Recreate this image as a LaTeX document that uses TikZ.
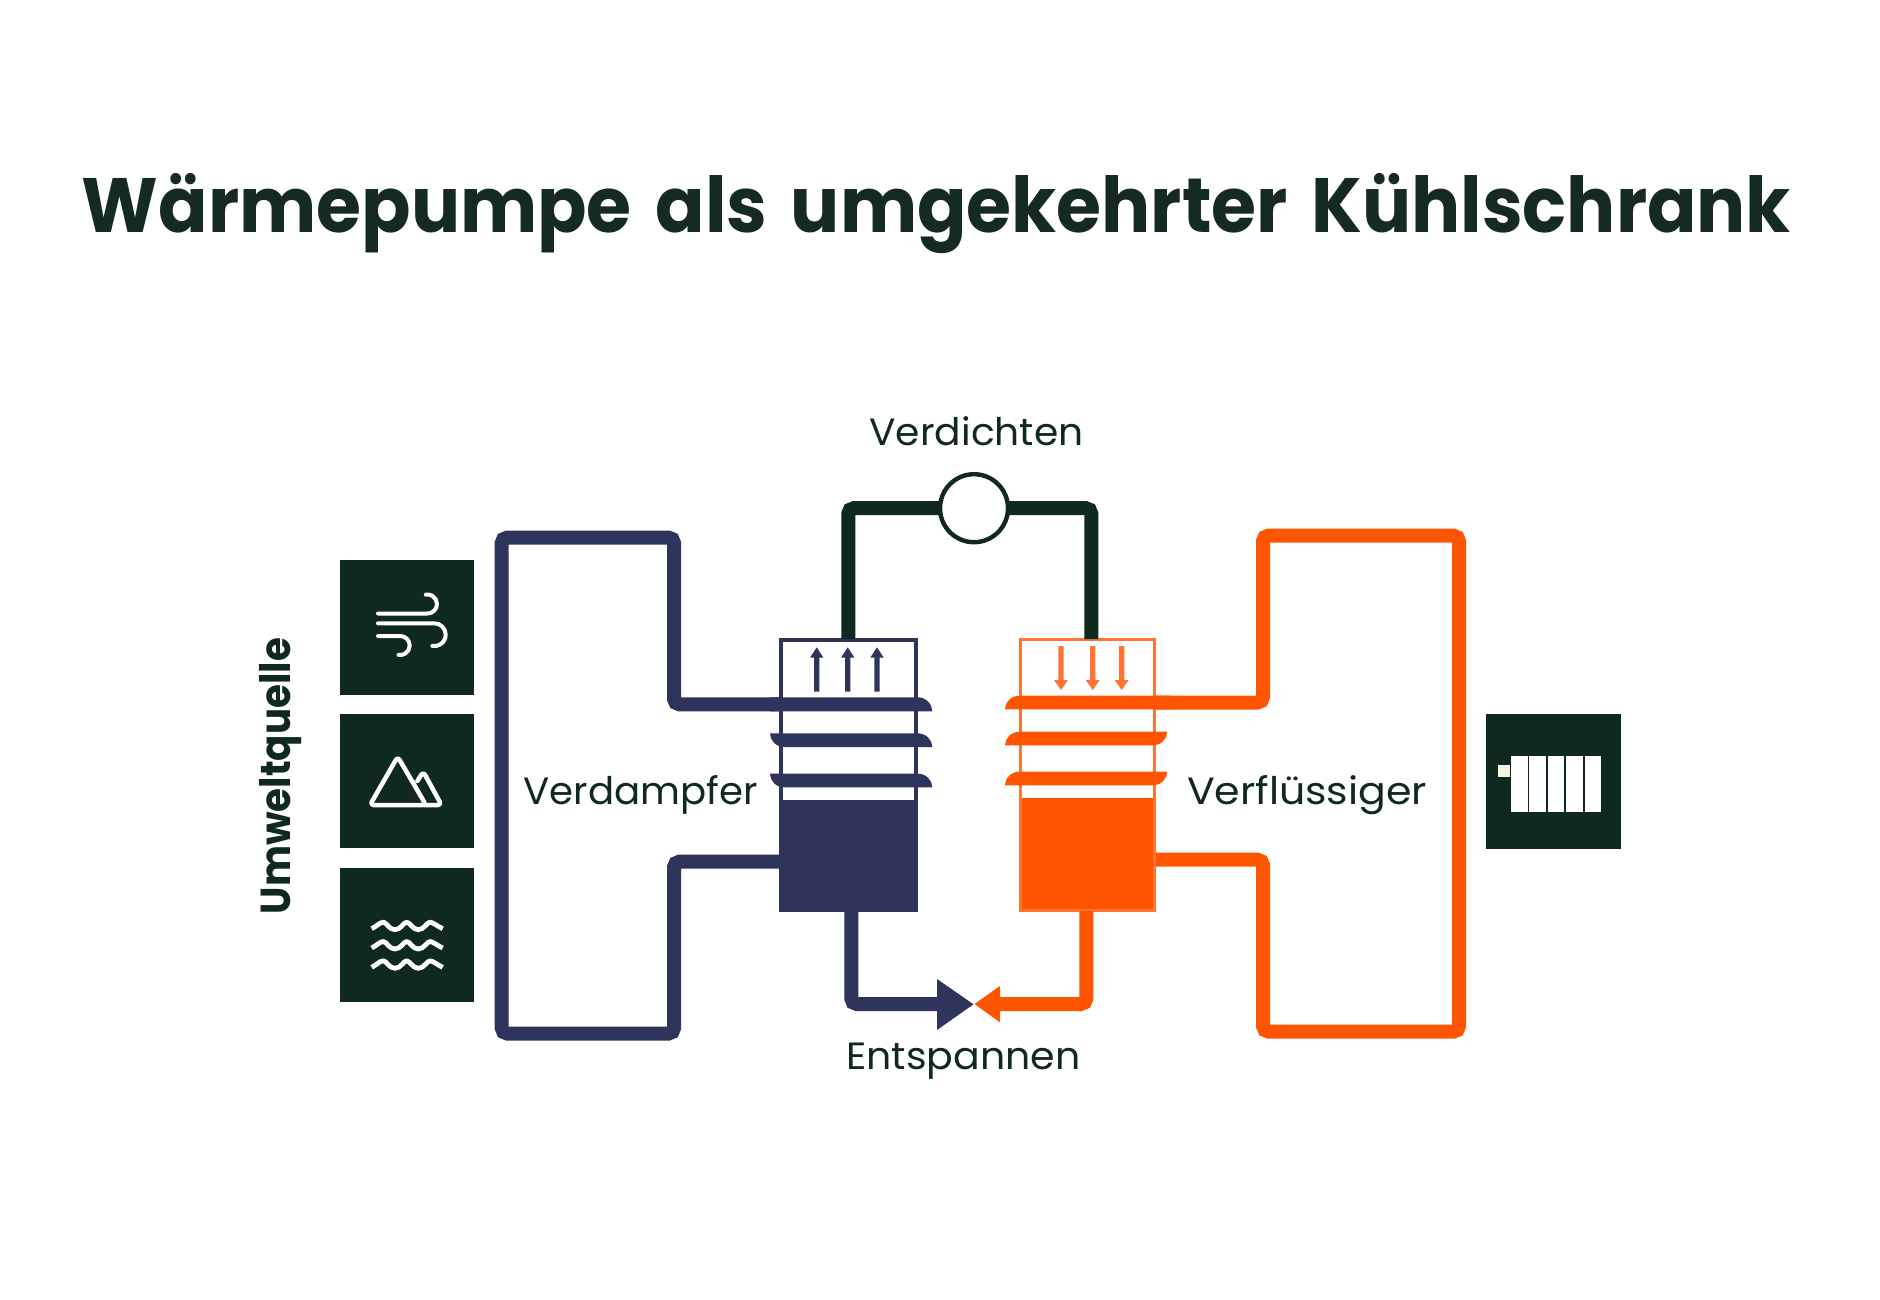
\documentclass[tikz,border=0pt]{standalone}
\usepackage{fontspec}
\usepackage{graphicx}
\newfontfamily\titlefont{Poppins}
\newfontfamily\labelfont{Poppins}
\definecolor{dark}{HTML}{10291E}
\definecolor{titlecol}{HTML}{152A22}
\definecolor{navy}{HTML}{2E345C}
\definecolor{hot}{HTML}{FF5500}
\definecolor{hotlight}{HTML}{FF7333}
\definecolor{pale}{HTML}{F4F7E4}
\tikzset{
  pipe/.style={line width=14pt,rounded corners=5.5pt,line cap=butt},
  iconline/.style={draw=white,line width=4pt,line cap=round,line join=round},
  tile/.style={fill=dark,draw=none,minimum width=134.5pt,minimum height=134.5pt,inner sep=0pt,outer sep=0pt},
  lab/.style={text=dark,inner sep=0pt,anchor=base,font=\labelfont\fontsize{38}{44}\selectfont},
  panel/.style={fill=white,draw=none,minimum width=16.4pt,minimum height=55.4pt,inner sep=0pt,outer sep=0pt},
  vessel/.style={draw,inner sep=0pt,outer sep=0pt,fill=white},
}
\newcommand{\fitw}[2]{\resizebox{#1pt}{\height}{#2}}
\newcommand{\navybar}[3]{\fill[navy] (#1,#2) -- (918,#2) .. controls (926,#2) and (932.3,#3-7) .. (932.3,#3) -- (784,#3) .. controls (776,#3) and (770,#2+7) .. (770,#2) -- cycle;}
\newcommand{\hotbar}[3]{\fill[hot] (1020,#2) -- (1167.3,#2) .. controls (1167.3,#2+7) and (1161,#3) .. (1153,#3) -- (1005,#3) .. controls (1005,#3-7) and (1011,#2) .. (1020,#2) -- cycle;}
\begin{document}
\begin{tikzpicture}[x=1pt,y=-1pt]
\useasboundingbox (0,0) rectangle (1880,1300);
\fill[white] (0,0) rectangle (1880,1300);

\node[inner sep=0pt,anchor=base,text=titlecol] (title) at (936.5,233) {\fitw{1709}{\titlefont\bfseries\fontsize{77}{96}\selectfont\spaceskip=25pt Wärmepumpe als umgekehrter Kühlschrank}};

% tiles
\node[tile] (wind) at (407.2,627.3) {};
\node[tile] (mount) at (407.2,781.2) {};
\node[tile] (water) at (407.2,935) {};
\node[tile] (rad) at (1553.4,781.4) {};
\node[inner sep=0pt,anchor=base,rotate=90,text=dark] (umw) at (290,776) {\fitw{276}{\titlefont\bfseries\fontsize{42}{50}\selectfont Umweltquelle}};

% wind icon
\draw[iconline] (378,613.5) -- (427.5,613.5) arc[start angle=-90,end angle=100,radius=9.5pt];
\draw[iconline] (378,623.3) -- (434.3,623.3) arc[start angle=90,end angle=-100,radius=11.4pt];
\draw[iconline] (378,636) -- (400.2,636) arc[start angle=90,end angle=-100,radius=9.5pt];

% mountain icon
\draw[iconline,line width=4.5pt,rounded corners=3.5pt] (397.7,756.7) -- (370,805) -- (426,805) -- cycle;
\draw[iconline,line width=4.5pt,rounded corners=3.5pt] (417.3,781) -- (423.3,771.7) -- (441.5,805) -- (424,805);

% water icon
\foreach \yy in {926.7,946,965.3}{
  \draw[draw=white,line width=4.8pt,line join=round]
   (371.7,\yy+2) .. controls (376,\yy) and (380,\yy-4.5) .. (383.3,\yy-4.5)
   .. controls (386.5,\yy-4.5) and (389,\yy+3) .. (395,\yy+3)
   .. controls (401,\yy+3) and (403.5,\yy-4.5) .. (406.7,\yy-4.5)
   .. controls (410,\yy-4.5) and (412.5,\yy+3) .. (418.3,\yy+3)
   .. controls (424,\yy+3) and (427,\yy-4.5) .. (430,\yy-4.5)
   .. controls (433,\yy-4.5) and (438,\yy) .. (442.7,\yy+2);
}

% radiator icon
\foreach \n/\xx in {1/1519.5,2/1537.5,3/1556.2,4/1574.5,5/1592.8}{
  \node[panel] (panel\n) at (\xx,784) {};
}
\node[fill=pale,minimum width=12.3pt,minimum height=12pt,inner sep=0pt,outer sep=0pt] (valve) at (1503.9,771.3) {};

% loops
\coordinate (nb1) at (800,704.3);
\coordinate (nb2) at (781,861.7);
\draw[pipe,draw=navy] (nb1) -- (674,704.3) -- (674,537.6) -- (501.7,537.6) -- (501.7,1033.5) -- (674,1033.5) -- (674,861.7) -- (nb2);
\coordinate (hb1) at (1030,702.5);
\coordinate (hb2) at (1155,859.7);
\draw[pipe,draw=hot] (hb1) -- (1263,702.5) -- (1263,535.7) -- (1459,535.7) -- (1459,1031.6) -- (1263,1031.6) -- (1263,859.7) -- (hb2);

% evaporator
\node[vessel,draw=navy,line width=4pt,minimum width=134.2pt,minimum height=270.6pt,anchor=north west] (verd) at (781.3,639.7) {};
\fill[navy] (779.3,800) rectangle (917.3,912.3);
\foreach \xx in {816.7,847.7,877}{
  \fill[navy] (\xx-2.7,691.7) -- (\xx-2.7,657.7) -- (\xx-6.7,657.7) -- (\xx,647.3) -- (\xx+6.7,657.7) -- (\xx+2.7,657.7) -- (\xx+2.7,691.7) -- cycle;
}
\navybar{784}{733.3}{747}
\navybar{784}{773.7}{787.3}
\fill[navy] (770,697.3) -- (918,697.3) .. controls (926,697.3) and (932.3,704.3) .. (932.3,711.3) -- (770,711.3) -- cycle;

% condenser
\node[vessel,draw=hotlight,line width=3pt,minimum width=134pt,minimum height=270.5pt,anchor=north west] (verf) at (1020.8,639.8) {};
\fill[hot] (1022.3,798.3) rectangle (1153.3,909);
\draw[draw=hotlight,line width=3pt] (1020.8,798.3) -- (1020.8,910.3) -- (1154.8,910.3) -- (1154.8,798.3);
\foreach \xx in {1061,1092.7,1121.7}{
  \fill[hotlight] (\xx-2.7,646) -- (\xx-2.7,680) -- (\xx-7,680) -- (\xx,690) -- (\xx+7,680) -- (\xx+2.7,680) -- (\xx+2.7,646) -- cycle;
}
\hotbar{1153}{731.7}{745.3}
\hotbar{1153}{771.5}{785.3}
\fill[hot] (1020,695.7) -- (1170,695.7) -- (1170,709.3) -- (1005,709.3) .. controls (1005,702) and (1011,695.7) .. (1020,695.7) -- cycle;

% compressor
\node[circle,draw=dark,fill=white,line width=4.4pt,minimum size=68pt,inner sep=0pt,outer sep=0pt] (comp) at (974,508.2) {};
\coordinate (dl) at (848.3,639);
\coordinate (dr) at (1091.3,639);
\draw[pipe,draw=dark] (dl) |- (comp.west);
\draw[pipe,draw=dark] (dr) |- (comp.east);

% expansion
\coordinate (ntip) at (973.5,1004.3);
\coordinate (htip) at (974.5,1004);
\coordinate (nbase) at (937,1004);
\coordinate (hbase) at (1000,1004);
\coordinate (nv) at (851.3,912);
\coordinate (hv) at (1086.3,911);
\draw[pipe,draw=navy] (nv) |- (nbase);
\draw[pipe,draw=hot] (hv) |- (hbase);
\fill[navy] (937,979) -- (ntip) -- (937,1030) -- cycle;
\fill[hot] (1000,986) -- (htip) -- (1000,1022.3) -- cycle;

% labels
\node[lab] (lverdichten) at (976.5,445) {\fitw{214}{Verdichten}};
\node[lab] (lentspannen) at (963.3,1069.3) {\fitw{234}{Entspannen}};
\node[lab] (lverdampfer) at (640.5,804) {\fitw{234}{Verdampfer}};
\node[lab] (lverfl) at (1307,804) {\fitw{240}{Verflüssiger}};
\end{tikzpicture}
\end{document}
